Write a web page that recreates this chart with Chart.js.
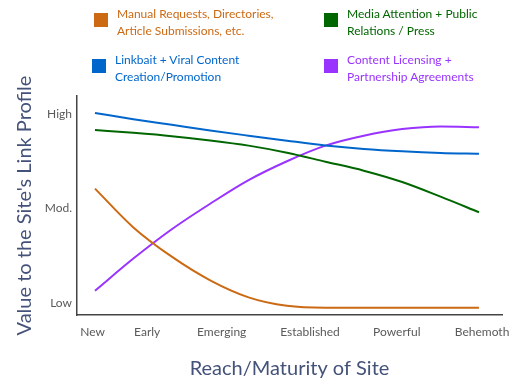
<!DOCTYPE html>
<html>
<head>
<meta charset="utf-8">
<script src="https://cdn.jsdelivr.net/npm/chart.js@4"></script>
<style>
    html, body { margin: 0; padding: 0; background: #fff; }
    #wrap { position: relative; width: 525px; height: 388px; }
    #myChart { position: absolute; left: 0; top: 0; }
    .leg { position: absolute; font-family: Lato, sans-serif; font-size: 12px; line-height: 17px; }
    .leg span.box { position: absolute; left: -23px; top: 8px; width: 14px; height: 14px; }
</style>
</head>
<body>
<div id="wrap">
    <canvas id="myChart" width="525" height="388"></canvas>
</div>
<script>
// x positions: 0 = New ... 5 = Behemoth (label spacing in the original is uneven)
const xTickPos = [-0.03, 0.68, 1.65, 2.8, 3.93, 5.04];
const xTickLabels = ["New", "Early", "Emerging", "Established", "Powerful", "Behemoth"];
const yTickVals = [0, 1, 2];
const yTickLabels = ["Low", "Mod.", "High"];

const sampleX = [0, 0.5, 1, 1.5, 2, 2.5, 3, 3.5, 4, 4.5, 5];
const manualVals = [1.21, 0.8, 0.49, 0.24, 0.06, -0.03, -0.05, -0.05, -0.05, -0.05, -0.05];
const mediaVals = [1.83, 1.8, 1.765, 1.72, 1.665, 1.59, 1.495, 1.4, 1.28, 1.125, 0.96];
const linkbaitVals = [2.01, 1.945, 1.885, 1.825, 1.77, 1.717, 1.667, 1.63, 1.605, 1.588, 1.58];
const licensingVals = [0.13, 0.47, 0.78, 1.05, 1.3, 1.5, 1.665, 1.77, 1.84, 1.868, 1.86];

const seriesNames = [
    ["Manual Requests, Directories,", "Article Submissions, etc."],
    ["Media Attention + Public", "Relations / Press"],
    ["Linkbait + Viral Content", "Creation/Promotion"],
    ["Content Licensing +", "Partnership Agreements"],
];
const seriesVals = [manualVals, mediaVals, linkbaitVals, licensingVals];
const seriesColors = ["#cc6a14", "#006600", "#0066cc", "#9933ff"];
const legendPos = [[117, 5], [347, 5], [115, 51], [347, 51]];

let wrap = document.getElementById("wrap");
seriesNames.forEach((name, i) => {
    let div = document.createElement("div");
    div.className = "leg";
    div.style.left = legendPos[i][0] + "px";
    div.style.top = legendPos[i][1] + "px";
    div.style.color = seriesColors[i];
    div.innerHTML = '<span class="box" style="background:' + seriesColors[i] + '"></span>' + name.join("<br>");
    wrap.appendChild(div);
});

const axisFont = { family: "Lato", size: 20 };
const tickFont = { family: "Lato", size: 12 };

new Chart(document.getElementById("myChart"), {
    type: "line",
    data: {
        datasets: seriesVals.map((vals, i) => ({
            label: seriesNames[i].join(" "),
            data: vals.map((v, j) => ({ x: sampleX[j], y: v })),
            borderColor: seriesColors[i],
            borderWidth: 2,
            pointRadius: 0,
            cubicInterpolationMode: "monotone",
        })),
    },
    options: {
        responsive: false,
        animation: false,
        layout: { padding: { top: 96, right: 23, left: 0, bottom: 0 } },
        plugins: { legend: { display: false }, tooltip: { enabled: false } },
        scales: {
            x: {
                type: "linear",
                min: -0.234,
                max: 5.3,
                afterFit: (scale) => { scale.height = 73; },
                afterBuildTicks: (scale) => { scale.ticks = xTickPos.map((v) => ({ value: v })); },
                grid: { display: false, drawTicks: false },
                border: { color: "#444", width: 1.5 },
                ticks: {
                    padding: 10,
                    color: "#5a5a5a",
                    font: tickFont,
                    autoSkip: false,
                    maxRotation: 0,
                    callback: (v) => xTickLabels[xTickPos.indexOf(v)],
                },
                title: {
                    display: true,
                    text: "Reach/Maturity of Site",
                    color: "#44527a",
                    font: axisFont,
                    padding: { top: 0, bottom: 7 },
                },
            },
            y: {
                min: -0.127,
                max: 2.19,
                afterFit: (scale) => { scale.width = 77; },
                afterBuildTicks: (scale) => { scale.ticks = yTickVals.map((v) => ({ value: v })); },
                grid: { display: false, drawTicks: false },
                border: { color: "#444", width: 1.5 },
                ticks: {
                    padding: 5,
                    color: "#5a5a5a",
                    font: tickFont,
                    callback: (v) => yTickLabels[yTickVals.indexOf(v)],
                },
                title: {
                    display: true,
                    text: "Value to the Site's Link Profile",
                    color: "#44527a",
                    font: axisFont,
                    padding: { top: 13, bottom: 0 },
                },
            },
        },
    },
});
</script>
</body>
</html>
